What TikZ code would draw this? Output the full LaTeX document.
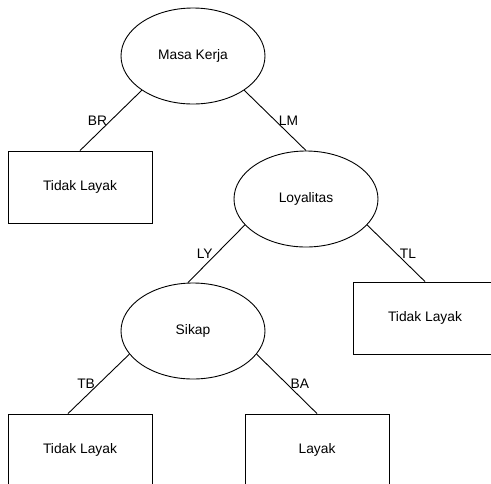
\documentclass[tikz,border=0pt]{standalone}
\usepackage{fontspec}
\setmainfont{Liberation Sans}
\usetikzlibrary{positioning, shapes.geometric}

\begin{document}
\begin{tikzpicture}[
        x=1pt, y=-1pt, line width=0.9pt,
        attr/.style={ellipse, draw, minimum width=144pt, minimum height=96pt, inner sep=0pt},
        leaf/.style={rectangle, draw, minimum width=144pt, minimum height=72pt, inner sep=0pt},
        every node/.style={font=\fontsize{13.8}{16}\selectfont}
      ]
      \useasboundingbox (0, 0) rectangle (491, 483);

      \node[attr] (masa)  at (193, 56)  {Masa Kerja};
      \node[leaf] (tl1)   at (80, 187)  {Tidak Layak};
      \node[attr] (loyal) at (306, 199) {Loyalitas};
      \node[attr] (sikap) at (193, 331) {Sikap};
      \node[leaf] (tl2)   at (425, 318) {Tidak Layak};
      \node[leaf] (tl3)   at (80, 450)  {Tidak Layak};
      \node[leaf] (layak) at (317, 450) {Layak};

      \draw (masa.south west) -- node[left]  {BR} (tl1.north);
      \draw (masa.south east) -- node[right] {LM} (loyal.north);
      \draw (loyal.203) -- node[left]  {LY} ([xshift=-5pt]sikap.north);
      \draw (loyal.337) -- node[right] {TL} (tl2.north);
      \draw (sikap.200) -- node[left]  {TB} ([xshift=-12pt]tl3.north);
      \draw (sikap.340) -- node[right] {BA} (layak.north);
    \end{tikzpicture}
\end{document}
